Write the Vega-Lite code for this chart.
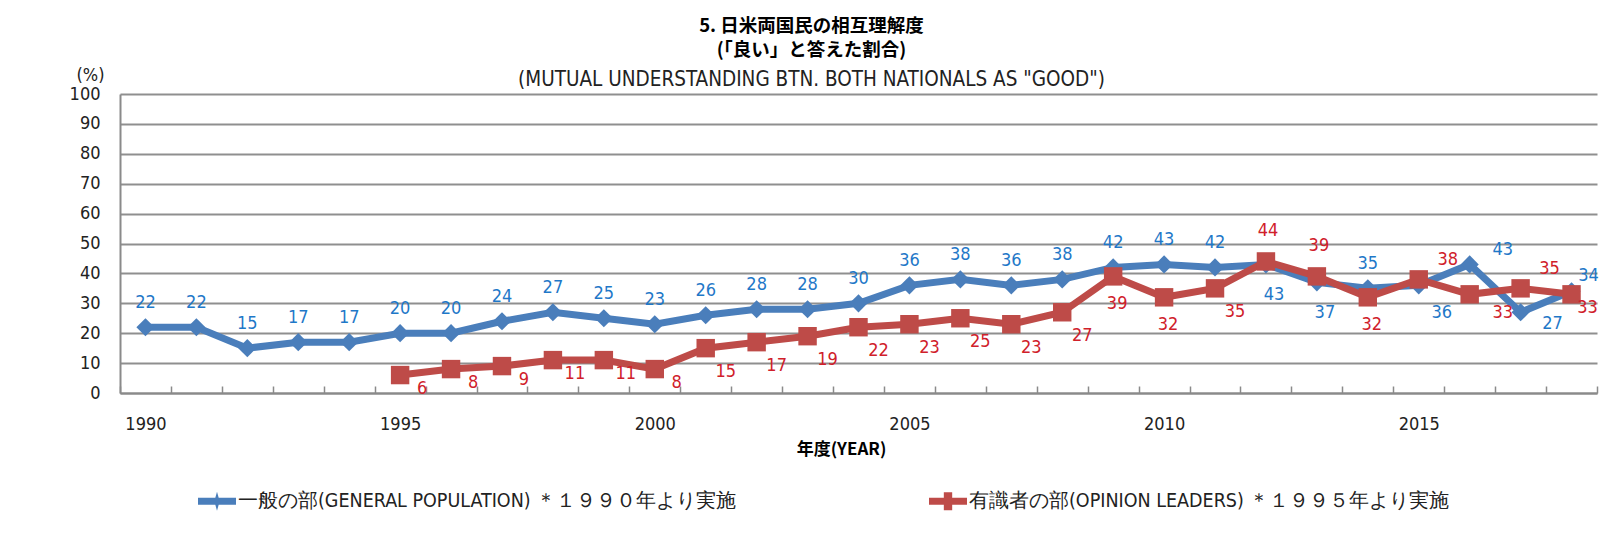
{
  "$schema": "https://vega.github.io/schema/vega-lite/v6.json",
  "autosize": "none",
  "width": 1477,
  "height": 299,
  "padding": {"left": 120, "top": 94, "right": 8, "bottom": 143},
  "background": "white",
  "config": {
    "font": "Liberation Sans Narrow, DejaVu Sans Condensed, sans-serif",
    "view": {"stroke": null}
  },
  "title": {
    "text": ["5. 日米両国民の相互理解度", "(「良い」と答えた割合)"],
    "subtitle": "(MUTUAL UNDERSTANDING BTN. BOTH NATIONALS AS \"GOOD\")",
    "anchor": "middle",
    "frame": "group",
    "dx": -47,
    "offset": -24,
    "font": "Noto Sans CJK JP",
    "fontSize": 18.5,
    "fontWeight": "bold",
    "color": "#000000",
    "lineHeight": 24,
    "subtitleFont": "Liberation Sans Narrow, DejaVu Sans Condensed, sans-serif",
    "subtitleFontSize": 20.5,
    "subtitleColor": "#222222",
    "subtitlePadding": 10
  },
  "data": {
    "values": [
      {"year": 1990, "series": "一般の部(GENERAL POPULATION) ＊１９９０年より実施", "value": 22},
      {"year": 1991, "series": "一般の部(GENERAL POPULATION) ＊１９９０年より実施", "value": 22},
      {"year": 1992, "series": "一般の部(GENERAL POPULATION) ＊１９９０年より実施", "value": 15},
      {"year": 1993, "series": "一般の部(GENERAL POPULATION) ＊１９９０年より実施", "value": 17},
      {"year": 1994, "series": "一般の部(GENERAL POPULATION) ＊１９９０年より実施", "value": 17},
      {"year": 1995, "series": "一般の部(GENERAL POPULATION) ＊１９９０年より実施", "value": 20},
      {"year": 1996, "series": "一般の部(GENERAL POPULATION) ＊１９９０年より実施", "value": 20},
      {"year": 1997, "series": "一般の部(GENERAL POPULATION) ＊１９９０年より実施", "value": 24},
      {"year": 1998, "series": "一般の部(GENERAL POPULATION) ＊１９９０年より実施", "value": 27},
      {"year": 1999, "series": "一般の部(GENERAL POPULATION) ＊１９９０年より実施", "value": 25},
      {"year": 2000, "series": "一般の部(GENERAL POPULATION) ＊１９９０年より実施", "value": 23},
      {"year": 2001, "series": "一般の部(GENERAL POPULATION) ＊１９９０年より実施", "value": 26},
      {"year": 2002, "series": "一般の部(GENERAL POPULATION) ＊１９９０年より実施", "value": 28},
      {"year": 2003, "series": "一般の部(GENERAL POPULATION) ＊１９９０年より実施", "value": 28},
      {"year": 2004, "series": "一般の部(GENERAL POPULATION) ＊１９９０年より実施", "value": 30},
      {"year": 2005, "series": "一般の部(GENERAL POPULATION) ＊１９９０年より実施", "value": 36},
      {"year": 2006, "series": "一般の部(GENERAL POPULATION) ＊１９９０年より実施", "value": 38},
      {"year": 2007, "series": "一般の部(GENERAL POPULATION) ＊１９９０年より実施", "value": 36},
      {"year": 2008, "series": "一般の部(GENERAL POPULATION) ＊１９９０年より実施", "value": 38},
      {"year": 2009, "series": "一般の部(GENERAL POPULATION) ＊１９９０年より実施", "value": 42},
      {"year": 2010, "series": "一般の部(GENERAL POPULATION) ＊１９９０年より実施", "value": 43},
      {"year": 2011, "series": "一般の部(GENERAL POPULATION) ＊１９９０年より実施", "value": 42},
      {"year": 2012, "series": "一般の部(GENERAL POPULATION) ＊１９９０年より実施", "value": 43},
      {"year": 2013, "series": "一般の部(GENERAL POPULATION) ＊１９９０年より実施", "value": 37},
      {"year": 2014, "series": "一般の部(GENERAL POPULATION) ＊１９９０年より実施", "value": 35},
      {"year": 2015, "series": "一般の部(GENERAL POPULATION) ＊１９９０年より実施", "value": 36},
      {"year": 2016, "series": "一般の部(GENERAL POPULATION) ＊１９９０年より実施", "value": 43},
      {"year": 2017, "series": "一般の部(GENERAL POPULATION) ＊１９９０年より実施", "value": 27},
      {"year": 2018, "series": "一般の部(GENERAL POPULATION) ＊１９９０年より実施", "value": 34},
      {"year": 1995, "series": "有識者の部(OPINION LEADERS) ＊１９９５年より実施", "value": 6},
      {"year": 1996, "series": "有識者の部(OPINION LEADERS) ＊１９９５年より実施", "value": 8},
      {"year": 1997, "series": "有識者の部(OPINION LEADERS) ＊１９９５年より実施", "value": 9},
      {"year": 1998, "series": "有識者の部(OPINION LEADERS) ＊１９９５年より実施", "value": 11},
      {"year": 1999, "series": "有識者の部(OPINION LEADERS) ＊１９９５年より実施", "value": 11},
      {"year": 2000, "series": "有識者の部(OPINION LEADERS) ＊１９９５年より実施", "value": 8},
      {"year": 2001, "series": "有識者の部(OPINION LEADERS) ＊１９９５年より実施", "value": 15},
      {"year": 2002, "series": "有識者の部(OPINION LEADERS) ＊１９９５年より実施", "value": 17},
      {"year": 2003, "series": "有識者の部(OPINION LEADERS) ＊１９９５年より実施", "value": 19},
      {"year": 2004, "series": "有識者の部(OPINION LEADERS) ＊１９９５年より実施", "value": 22},
      {"year": 2005, "series": "有識者の部(OPINION LEADERS) ＊１９９５年より実施", "value": 23},
      {"year": 2006, "series": "有識者の部(OPINION LEADERS) ＊１９９５年より実施", "value": 25},
      {"year": 2007, "series": "有識者の部(OPINION LEADERS) ＊１９９５年より実施", "value": 23},
      {"year": 2008, "series": "有識者の部(OPINION LEADERS) ＊１９９５年より実施", "value": 27},
      {"year": 2009, "series": "有識者の部(OPINION LEADERS) ＊１９９５年より実施", "value": 39},
      {"year": 2010, "series": "有識者の部(OPINION LEADERS) ＊１９９５年より実施", "value": 32},
      {"year": 2011, "series": "有識者の部(OPINION LEADERS) ＊１９９５年より実施", "value": 35},
      {"year": 2012, "series": "有識者の部(OPINION LEADERS) ＊１９９５年より実施", "value": 44},
      {"year": 2013, "series": "有識者の部(OPINION LEADERS) ＊１９９５年より実施", "value": 39},
      {"year": 2014, "series": "有識者の部(OPINION LEADERS) ＊１９９５年より実施", "value": 32},
      {"year": 2015, "series": "有識者の部(OPINION LEADERS) ＊１９９５年より実施", "value": 38},
      {"year": 2016, "series": "有識者の部(OPINION LEADERS) ＊１９９５年より実施", "value": 33},
      {"year": 2017, "series": "有識者の部(OPINION LEADERS) ＊１９９５年より実施", "value": 35},
      {"year": 2018, "series": "有識者の部(OPINION LEADERS) ＊１９９５年より実施", "value": 33}
    ]
  },
  "encoding": {
    "x": {
      "field": "year",
      "type": "ordinal",
      "scale": {"type": "band", "paddingInner": 0, "paddingOuter": 0,
        "domain": [1990,1991,1992,1993,1994,1995,1996,1997,1998,1999,2000,2001,2002,2003,2004,2005,2006,2007,2008,2009,2010,2011,2012,2013,2014,2015,2016,2017,2018]},
      "axis": {
        "title": "年度(YEAR)",
        "titleFont": "Noto Sans CJK JP",
        "titleFontSize": 17,
        "titleFontWeight": "bold",
        "titleColor": "#000000",
        "titleX": 721,
        "titleY": 56,
        "titleBaseline": "middle",
        "labelAngle": 0,
        "labelExpr": "datum.value % 5 === 0 ? datum.label : ''",
        "labelFontSize": 18,
        "labelColor": "#222222",
        "labelPadding": 38,
        "labelBaseline": "middle",
        "tickBand": "extent",
        "tickSize": -7,
        "tickColor": "#8a8a8a",
        "tickWidth": 1.5,
        "domainColor": "#8a8a8a",
        "domainWidth": 2,
        "grid": false
      }
    },
    "y": {
      "field": "value",
      "type": "quantitative",
      "scale": {"domain": [0, 100], "nice": false},
      "axis": {
        "title": "(%)",
        "titleAngle": 0,
        "titleX": -30,
        "titleY": -19,
        "titleAlign": "center",
        "titleBaseline": "middle",
        "titleFontSize": 18,
        "titleFontWeight": "normal",
        "titleColor": "#222222",
        "values": [0,10,20,30,40,50,60,70,80,90,100],
        "labelFontSize": 18,
        "labelColor": "#222222",
        "labelPadding": 20,
        "ticks": false,
        "grid": true,
        "gridColor": "#8f8f8f",
        "gridWidth": 1.8,
        "domainColor": "#8a8a8a",
        "domainWidth": 2
      }
    },
    "color": {
      "field": "series",
      "type": "nominal",
      "scale": {
        "domain": ["一般の部(GENERAL POPULATION) ＊１９９０年より実施", "有識者の部(OPINION LEADERS) ＊１９９５年より実施"],
        "range": ["#4A7EBB", "#BE4B48"]
      },
      "legend": {
        "title": null,
        "orient": "none",
        "direction": "horizontal",
        "legendX": 78,
        "legendY": 388,
        "columnPadding": 192,
        "symbolSize": 1444,
        "labelFontSize": 19.5,
        "labelColor": "#222222",
        "labelOffset": 2,
        "labelLimit": 600,
        "encode": {
          "symbols": {
            "update": {
              "shape": {"signal": "indexof(datum.value, '一般') === 0 ? 'M-1,-0.18L1,-0.18L1,0.18L-1,0.18Z M0,-0.5L0.14,0L0,0.5L-0.14,0Z' : 'M-1,-0.18L1,-0.18L1,0.18L-1,0.18Z M-0.22,-0.47L0.22,-0.47L0.22,0.47L-0.22,0.47Z'"},
              "fill": {"signal": "scale('color', datum.value)"},
              "stroke": {"value": "transparent"},
              "strokeWidth": {"value": 0},
              "opacity": {"value": 1}
            }
          }
        }
      }
    }
  },
  "layer": [
    {
      "transform": [{"filter": "indexof(datum.series, '一般') === 0"}],
      "mark": {"type": "line", "strokeWidth": 7}
    },
    {
      "transform": [{"filter": "indexof(datum.series, '一般') === 0"}],
      "mark": {"type": "point", "shape": "diamond", "filled": true, "size": 330, "color": "#3A6CB0", "opacity": 1}
    },
    {
      "transform": [{"filter": "indexof(datum.series, '有識') === 0"}],
      "mark": {"type": "line", "strokeWidth": 7}
    },
    {
      "transform": [{"filter": "indexof(datum.series, '有識') === 0"}],
      "mark": {"type": "square", "size": 340, "color": "#BE3A36", "opacity": 1}
    },
    {
      "transform": [{"filter": "indexof(datum.series, '一般') === 0 && (datum.year <= 2011 || datum.year == 2014)"}],
      "mark": {"type": "text", "dx": 0, "dy": -24, "fontSize": 18},
      "encoding": {"text": {"field": "value"}, "color": {"value": "#1F78C8"}}
    },
    {
      "transform": [{"filter": "indexof(datum.series, '一般') === 0 && (datum.year == 2012 || datum.year == 2013)"}],
      "mark": {"type": "text", "dx": 8, "dy": 31, "fontSize": 18},
      "encoding": {"text": {"field": "value"}, "color": {"value": "#1F78C8"}}
    },
    {
      "transform": [{"filter": "indexof(datum.series, '一般') === 0 && datum.year == 2015"}],
      "mark": {"type": "text", "dx": 23, "dy": 28, "fontSize": 18},
      "encoding": {"text": {"field": "value"}, "color": {"value": "#1F78C8"}}
    },
    {
      "transform": [{"filter": "indexof(datum.series, '一般') === 0 && datum.year == 2016"}],
      "mark": {"type": "text", "dx": 33, "dy": -14, "fontSize": 18},
      "encoding": {"text": {"field": "value"}, "color": {"value": "#1F78C8"}}
    },
    {
      "transform": [{"filter": "indexof(datum.series, '一般') === 0 && datum.year == 2017"}],
      "mark": {"type": "text", "dx": 32, "dy": 12, "fontSize": 18},
      "encoding": {"text": {"field": "value"}, "color": {"value": "#1F78C8"}}
    },
    {
      "transform": [{"filter": "indexof(datum.series, '一般') === 0 && datum.year == 2018"}],
      "mark": {"type": "text", "dx": 17, "dy": -15, "fontSize": 18},
      "encoding": {"text": {"field": "value"}, "color": {"value": "#1F78C8"}}
    },
    {
      "transform": [{"filter": "indexof(datum.series, '有識') === 0 && datum.year <= 2000"}],
      "mark": {"type": "text", "dx": 22, "dy": 14, "fontSize": 18},
      "encoding": {"text": {"field": "value"}, "color": {"value": "#D0202A"}}
    },
    {
      "transform": [{"filter": "indexof(datum.series, '有識') === 0 && ((datum.year >= 2001 && datum.year <= 2008) || datum.year == 2011)"}],
      "mark": {"type": "text", "dx": 20, "dy": 24, "fontSize": 18},
      "encoding": {"text": {"field": "value"}, "color": {"value": "#D0202A"}}
    },
    {
      "transform": [{"filter": "indexof(datum.series, '有識') === 0 && (datum.year == 2009 || datum.year == 2010 || datum.year == 2014)"}],
      "mark": {"type": "text", "dx": 4, "dy": 28, "fontSize": 18},
      "encoding": {"text": {"field": "value"}, "color": {"value": "#D0202A"}}
    },
    {
      "transform": [{"filter": "indexof(datum.series, '有識') === 0 && (datum.year == 2012 || datum.year == 2013)"}],
      "mark": {"type": "text", "dx": 2, "dy": -30, "fontSize": 18},
      "encoding": {"text": {"field": "value"}, "color": {"value": "#D0202A"}}
    },
    {
      "transform": [{"filter": "indexof(datum.series, '有識') === 0 && (datum.year == 2015 || datum.year == 2017)"}],
      "mark": {"type": "text", "dx": 29, "dy": -19, "fontSize": 18},
      "encoding": {"text": {"field": "value"}, "color": {"value": "#D0202A"}}
    },
    {
      "transform": [{"filter": "indexof(datum.series, '有識') === 0 && datum.year == 2016"}],
      "mark": {"type": "text", "dx": 33, "dy": 19, "fontSize": 18},
      "encoding": {"text": {"field": "value"}, "color": {"value": "#D0202A"}}
    },
    {
      "transform": [{"filter": "indexof(datum.series, '有識') === 0 && datum.year == 2018"}],
      "mark": {"type": "text", "dx": 16, "dy": 14, "fontSize": 18},
      "encoding": {"text": {"field": "value"}, "color": {"value": "#D0202A"}}
    }
  ]
}
